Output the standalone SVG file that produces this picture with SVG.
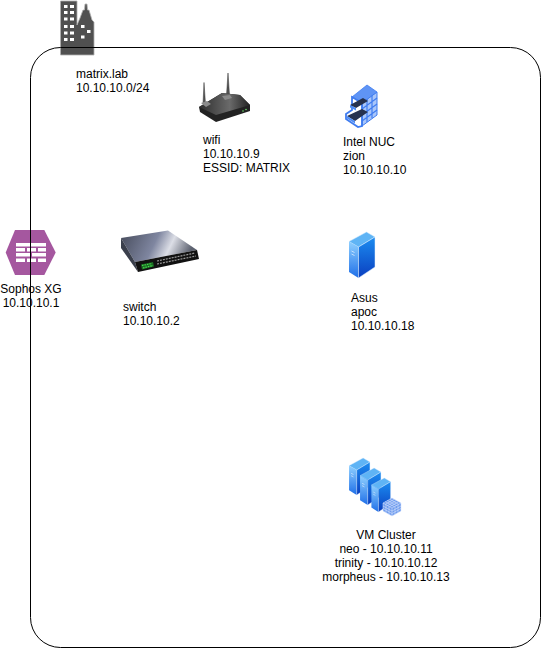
<svg xmlns="http://www.w3.org/2000/svg" width="541" height="648" viewBox="0 0 541 648">
<style>
text{font-family:"Liberation Sans",Arial,sans-serif;font-size:12px;fill:#000}
.m{text-anchor:middle}
.frame{fill:none;stroke:#000;stroke-width:1}
</style>
<defs>
<linearGradient id="sl" x1="0" y1="0" x2="0" y2="1"><stop offset="0" stop-color="#8fd0ff"/><stop offset="1" stop-color="#1f6fe8"/></linearGradient>
<linearGradient id="sr" x1="0" y1="0" x2="0" y2="1"><stop offset="0" stop-color="#1c8cf0"/><stop offset="1" stop-color="#0a3fc0"/></linearGradient>
<linearGradient id="sw" x1="0" y1="0" x2="1" y2="0.2"><stop offset="0" stop-color="#454a5a"/><stop offset="0.5" stop-color="#7f86a0"/><stop offset="0.72" stop-color="#dcdee6"/><stop offset="1" stop-color="#5d6270"/></linearGradient>
<linearGradient id="rt" x1="0" y1="0" x2="1" y2="0"><stop offset="0" stop-color="#2d2d2d"/><stop offset="0.6" stop-color="#6a6a6a"/><stop offset="1" stop-color="#222"/></linearGradient>
<symbol id="server" viewBox="0 0 26 46" overflow="visible">
<path d="M0 9.500 17.500 0 26 5 9.500 15Z" fill="#5fb4f5" stroke="#cfe8ff" stroke-width=".5"/>
<path d="M0 9.500 9.500 15V46L0 40Z" fill="url(#sl)"/>
<path d="M9.500 15 26 5V35L9.500 46Z" fill="url(#sr)" stroke="#e4f2ff" stroke-width=".5"/>
<path d="M2.500 19l3 1.500M2.500 22l3 1.500" stroke="#e8f4ff" stroke-width=".7"/>
</symbol>
</defs>
<g id="building">
<path d="M60.500 55V1H77V25L80 18 83 10H84.500L85 4H87L87.500 10H89L92 20 94 22V55Z" fill="#505050" stroke="#b0b0b0" stroke-width=".8"/>
<path d="M64 5h3.500v3H64zM70 5h4v3h-4zM64 11h3.500v3H64zM70 11h4v3h-4zM64 17.500h3.500v3H64zM70 17.500h4v3h-4zM64 25h3.500v3H64zM70 25h4v3h-4zM64 31.500h3.500v3H64zM70 31.500h4v3h-4zM64 38h3.500v3H64zM70 38h4v3h-4zM81 25h3.500v3H81zM87 30h3.500v3H87zM81 35.500h3.500v3H81z" fill="#fff"/>
</g>
<g id="matrix-label"><text x="76" y="78">matrix.lab</text><text x="76" y="92">10.10.10.0/24</text></g>
<g id="wifi">
<path d="M204 82.500 203 104h2.500ZM228 73 226.500 95h3Z" fill="#555" stroke="#333" stroke-width=".5"/>
<path d="M199 107 222 93 240 95 250 105 250 111 216 122 200 112Z" fill="#222"/>
<path d="M199 107 222 93 240 95 250 105 216 115Z" fill="url(#rt)"/>
<path d="M201 103l6-2 4 3-5 3ZM222 96l8-1 2 3-7 2Z" fill="#8a8a8a"/>
<circle cx="243" cy="111" r=".8" fill="#6fe06f"/><circle cx="246" cy="109.500" r=".8" fill="#6fe06f"/>
<text x="203" y="144">wifi</text><text x="203" y="158">10.10.10.9</text><text x="203" y="172">ESSID: MATRIX</text>
</g>
<g id="intel-nuc">
<path d="M362 103 377 92V115L362 126Z" fill="#a9c6fa" stroke="#3f7cf0" stroke-width="1"/>
<path d="M352 97 367 85 377 92 362 103Z" fill="#5f94f5" stroke="#3f7cf0" stroke-width=".8"/>
<path d="M362 109 377 98M362 115 377 104M362 121 377 110M367 99V122M372 95.500V118" stroke="#3f7cf0" stroke-width="1.200" fill="none"/>
<path d="M352 97V110L346 114V119L358 127 362 126V103Z" fill="none" stroke="#3f7cf0" stroke-width="1.800"/>
<path d="M350 105 363 98 368 101 356 108ZM347 116 362 109 368 112 355 121Z" fill="#26324f"/>
<path d="M350 105 356 108V110.500L350 107.500ZM347 116 355 121V123.500L347 118.500Z" fill="#4f8df5"/>
<text x="343" y="146">Intel NUC</text><text x="343" y="160">zion</text><text x="343" y="174">10.10.10.10</text>
</g>
<g id="sophos-xg">
<path d="M5.700 252.500 15 230H44.300L55.700 252.500 44.300 275H15Z" fill="#a5579f"/>
<path d="M16 243h30v3.500H16zM16 248h9v3.500H16zM27 248h9v3.500H27zM38 248h8v3.500H38zM16 253h14v3.500H16zM32 253h14v3.500H32zM16 258.500h9v3.500H16zM27 258.500h9v3.500H27zM38 258.500h8v3.500H38z" fill="#fff"/>
<text class="m" x="31" y="293">Sophos XG</text><text class="m" x="31" y="307">10.10.10.1</text>
</g>
<g id="switch">
<path d="M121 238 168 230.500 197 250 135 262Z" fill="url(#sw)"/>
<path d="M121 238 135 262 138 272 121 248Z" fill="#3a3f4c"/>
<path d="M135 262 197 250 199 259 138 272Z" fill="#111"/>
<path d="M141 264.500 153 262 154 266.500 142 269.500Z" fill="#1c6b24"/>
<path d="M142 265.500 152 263.500M143 268 153 265.500" stroke="#46e04f" stroke-width="1.200" stroke-dasharray="1.500 1" fill="none"/>
<path d="M157 261 195 253M157 264 196 256" stroke="#9a9a9a" stroke-width="1.200" stroke-dasharray="2 1" fill="none"/>
<text x="123" y="311">switch</text><text x="123" y="325">10.10.10.2</text>
</g>
<g id="asus">
<use href="#server" x="349" y="232" width="26" height="46"/>
<text x="351" y="302">Asus</text><text x="351" y="316">apoc</text><text x="351" y="330">10.10.10.18</text>
</g>
<g id="vm-cluster">
<use href="#server" x="349" y="458" width="21" height="37"/>
<use href="#server" x="360" y="468" width="21" height="37"/>
<use href="#server" x="371" y="478" width="20" height="34"/>
<path d="M383 503 392 498 401 503V511L392 516 383 511Z" fill="#6f9cee" stroke="#d5e3ff" stroke-width=".5"/>
<path d="M383 503 392 508 401 503M392 508V516M385.300 501.700 394.300 506.700M387.500 500.500 396.500 505.500M389.700 499.300 398.700 504.300M398.700 501.700 389.700 506.700M396.500 500.500 387.500 505.500M394.300 499.300 385.300 504.300M383 506 392 511 401 506M383 508.500 392 513.500 401 508.500M386 504.700V512.700M389 506.400V514.400M395 506.400V514.400M398 504.700V512.700" fill="none" stroke="#e4edff" stroke-width=".5"/>
<text class="m" x="386" y="539">VM Cluster</text><text class="m" x="386" y="553">neo - 10.10.10.11</text><text class="m" x="386" y="567">trinity - 10.10.10.12</text><text class="m" x="386" y="581">morpheus - 10.10.10.13</text>
</g>
<g id="connectors"></g>
<g id="frame"><path class="frame" d="M60.500 47.500H510.500A30 30 0 0 1 540.500 77.500V617.500A30 30 0 0 1 510.500 647.500H60.500A30 30 0 0 1 30.500 617.500V77.500A30 30 0 0 1 60.500 47.500Z"/></g>
</svg>
